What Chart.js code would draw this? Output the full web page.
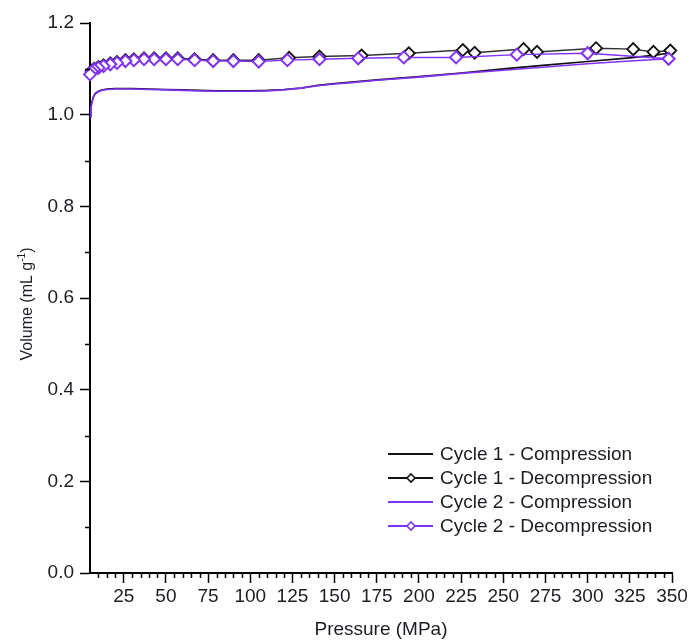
<!DOCTYPE html>
<html>
<head>
<meta charset="utf-8">
<script src="https://cdn.jsdelivr.net/npm/chart.js@4.4.1/dist/chart.umd.min.js"></script>
<style>
  body { margin: 0; background: #fff; }
  #wrap { width: 691px; height: 643px; }
</style>
</head>
<body>
<div id="wrap"><canvas id="pvChart" width="691" height="643"></canvas></div>
<script>
// values: pressure in MPa, volume in mL/g
const c1CompP = [5, 5.5, 6, 7, 8, 10, 12, 15, 20, 30, 40, 50, 60, 70, 80, 90, 100, 110, 120, 130, 140, 150, 160, 175, 200, 225, 250, 275, 300, 325, 340, 350];
const c1CompV = [0.996, 1.012, 1.026, 1.039, 1.046, 1.051, 1.054, 1.056, 1.057, 1.057, 1.056, 1.055, 1.054, 1.053, 1.052, 1.052, 1.052, 1.053, 1.055, 1.058, 1.064, 1.068, 1.071, 1.076, 1.083, 1.091, 1.100, 1.108, 1.116, 1.124, 1.130, 1.135];

const c1DecP = [349, 339, 327, 305, 270, 262, 233, 226, 194, 166, 141, 123, 105, 90, 78, 67, 57, 50, 43, 37, 31, 26, 21, 17, 13, 10, 7.5, 6];
const c1DecV = [1.140, 1.137, 1.143, 1.145, 1.137, 1.143, 1.135, 1.141, 1.134, 1.129, 1.127, 1.124, 1.119, 1.119, 1.119, 1.121, 1.123, 1.123, 1.123, 1.123, 1.121, 1.119, 1.115, 1.112, 1.108, 1.104, 1.100, 1.096];

const c2CompP = [5, 5.5, 6, 7, 8, 10, 12, 15, 20, 30, 40, 50, 60, 70, 80, 90, 100, 110, 120, 130, 140, 150, 160, 175, 200, 225, 250, 275, 300, 325, 348];
const c2CompV = [0.995, 1.010, 1.025, 1.038, 1.045, 1.050, 1.053, 1.055, 1.056, 1.056, 1.055, 1.054, 1.053, 1.052, 1.051, 1.051, 1.051, 1.052, 1.054, 1.058, 1.063, 1.067, 1.070, 1.075, 1.082, 1.090, 1.097, 1.104, 1.111, 1.117, 1.122];

const c2DecP = [348, 300, 258, 222, 191, 164, 141, 122, 105, 90, 78, 67, 57, 50, 43, 37, 31, 26, 21, 17, 13, 10, 7.5, 6, 5];
const c2DecV = [1.122, 1.134, 1.131, 1.125, 1.125, 1.123, 1.121, 1.119, 1.116, 1.117, 1.117, 1.119, 1.121, 1.121, 1.121, 1.121, 1.119, 1.117, 1.113, 1.110, 1.106, 1.102, 1.098, 1.094, 1.088];

const seriesLabels = ['Cycle 1 - Compression', 'Cycle 1 - Decompression', 'Cycle 2 - Compression', 'Cycle 2 - Decompression'];

const X_MIN = 5, X_MAX = 350, X_MAJOR = 25;
const Y_MIN = 0, Y_MAX = 1.2;

const BLACK = '#111111';
const PURPLE = '#8232f5';
const TEXT = '#1c1c24';
const FONT = '"Liberation Sans", Arial, sans-serif';

function toPoints(ps, vs) {
    return ps.map((p, i) => ({ x: p, y: vs[i] }));
}

function isYMajor(v) {
    return Math.round(v * 10) % 2 === 0;
}

// minor ticks, axis titles and the legend
const decorPlugin = {
    id: 'decor',
    afterDraw(chart) {
        const { ctx, chartArea } = chart;
        const xs = chart.scales.x, ys = chart.scales.y;
        ctx.save();

        ctx.strokeStyle = '#000';
        ctx.lineWidth = 1.5;
        ctx.beginPath();
        for (let p = X_MIN + 5; p <= X_MAX; p += 5) {
            if (p % X_MAJOR === 0) continue;
            const px = Math.round(xs.getPixelForValue(p)) + 0.5;
            ctx.moveTo(px, chartArea.bottom);
            ctx.lineTo(px, chartArea.bottom + 5);
        }
        for (let i = 1; i < 12; i += 2) {
            const py = Math.round(ys.getPixelForValue(i / 10)) + 0.5;
            ctx.moveTo(chartArea.left - 5, py);
            ctx.lineTo(chartArea.left, py);
        }
        ctx.stroke();

        // x title
        ctx.fillStyle = TEXT;
        ctx.font = '19px ' + FONT;
        ctx.textAlign = 'center';
        ctx.textBaseline = 'middle';
        ctx.fillText('Pressure (MPa)', (chartArea.left + chartArea.right) / 2, 630);

        // y title with superscript
        const main = 'Volume (mL g', sup = '-1', tail = ')';
        ctx.font = '16px ' + FONT;
        const w1 = ctx.measureText(main).width;
        const w3 = ctx.measureText(tail).width;
        ctx.font = '10px ' + FONT;
        const w2 = ctx.measureText(sup).width;
        const total = w1 + w2 + w3;
        ctx.translate(28, (chartArea.top + chartArea.bottom) / 2 + 6);
        ctx.rotate(-Math.PI / 2);
        ctx.textAlign = 'left';
        ctx.font = '16px ' + FONT;
        ctx.fillText(main, -total / 2, 0);
        ctx.font = '10px ' + FONT;
        ctx.fillText(sup, -total / 2 + w1, -6);
        ctx.font = '16px ' + FONT;
        ctx.fillText(tail, -total / 2 + w1 + w2, 0);
        ctx.setTransform(1, 0, 0, 1, 0, 0);

        // legend
        const colors = [BLACK, BLACK, PURPLE, PURPLE];
        const rowY = [454, 478, 502, 526];
        ctx.font = '19px ' + FONT;
        ctx.textAlign = 'left';
        ctx.textBaseline = 'middle';
        seriesLabels.forEach((label, i) => {
            const y = rowY[i];
            ctx.strokeStyle = colors[i];
            ctx.lineWidth = 1.8;
            ctx.beginPath();
            ctx.moveTo(388, y);
            ctx.lineTo(433, y);
            ctx.stroke();
            if (i % 2 === 1) {
                const cx = 411, r = 4;
                ctx.beginPath();
                ctx.moveTo(cx, y - r);
                ctx.lineTo(cx + r, y);
                ctx.lineTo(cx, y + r);
                ctx.lineTo(cx - r, y);
                ctx.closePath();
                ctx.fillStyle = '#fff';
                ctx.fill();
                ctx.lineWidth = 1.6;
                ctx.stroke();
            }
            ctx.fillStyle = TEXT;
            ctx.fillText(label, 440, y + 1);
        });
        ctx.restore();
    }
};

const ctx = document.getElementById('pvChart').getContext('2d');
new Chart(ctx, {
    type: 'scatter',
    data: {
        datasets: [
            {
                label: seriesLabels[3],
                data: toPoints(c2DecP, c2DecV),
                showLine: true,
                borderColor: PURPLE,
                borderWidth: 1.5,
                pointStyle: 'rectRot',
                pointRadius: 6,
                pointBackgroundColor: '#fff',
                pointBorderColor: PURPLE,
                pointBorderWidth: 2,
                clip: false,
                order: 1
            },
            {
                label: seriesLabels[2],
                data: toPoints(c2CompP, c2CompV),
                showLine: true,
                borderColor: PURPLE,
                borderWidth: 1.6,
                pointRadius: 0,
                clip: false,
                order: 2
            },
            {
                label: seriesLabels[1],
                data: toPoints(c1DecP, c1DecV),
                showLine: true,
                borderColor: '#333',
                borderWidth: 1.5,
                pointStyle: 'rectRot',
                pointRadius: 6,
                pointBackgroundColor: '#fff',
                pointBorderColor: BLACK,
                pointBorderWidth: 1.8,
                clip: false,
                order: 3
            },
            {
                label: seriesLabels[0],
                data: toPoints(c1CompP, c1CompV),
                showLine: true,
                borderColor: BLACK,
                borderWidth: 1.6,
                pointRadius: 0,
                clip: false,
                order: 4
            }
        ]
    },
    options: {
        responsive: false,
        animation: false,
        devicePixelRatio: 1,
        events: [],
        layout: { padding: { top: 23, right: 19, left: 0, bottom: 0 } },
        plugins: {
            legend: { display: false },
            tooltip: { enabled: false }
        },
        scales: {
            x: {
                type: 'linear',
                min: X_MIN,
                max: X_MAX,
                afterFit: s => { s.height = 70; s.paddingLeft = 0; s.paddingRight = 0; },
                border: { display: true, color: '#000', width: 2 },
                grid: {
                    drawOnChartArea: false,
                    tickLength: 10,
                    tickWidth: 1.5,
                    tickColor: c => (c.tick && c.tick.value % X_MAJOR === 0) ? '#000' : 'rgba(0,0,0,0)'
                },
                ticks: {
                    stepSize: 5,
                    autoSkip: false,
                    maxRotation: 0,
                    padding: 2,
                    color: TEXT,
                    font: { family: FONT, size: 19 },
                    callback: v => (v % X_MAJOR === 0 ? String(v) : '')
                }
            },
            y: {
                type: 'linear',
                min: Y_MIN,
                max: Y_MAX,
                afterFit: s => { s.width = 90; s.paddingTop = 0; s.paddingBottom = 0; },
                border: { display: true, color: '#000', width: 2 },
                grid: {
                    drawOnChartArea: false,
                    tickLength: 10,
                    tickWidth: 1.5,
                    tickColor: c => (c.tick && isYMajor(c.tick.value)) ? '#000' : 'rgba(0,0,0,0)'
                },
                ticks: {
                    stepSize: 0.1,
                    autoSkip: false,
                    padding: 6,
                    color: TEXT,
                    font: { family: FONT, size: 19 },
                    callback: v => (isYMajor(v) ? (Math.round(v * 10) / 10).toFixed(1) : '')
                }
            }
        }
    },
    plugins: [decorPlugin]
});
</script>
</body>
</html>
